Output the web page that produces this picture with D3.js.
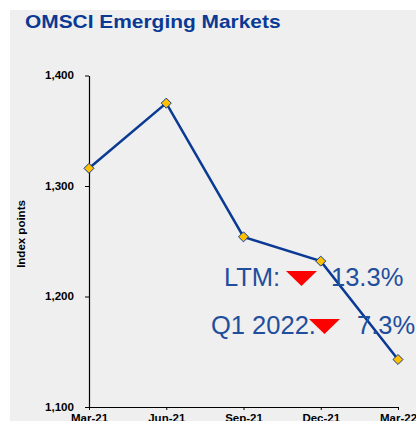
<!DOCTYPE html>
<html>
<head>
<meta charset="utf-8">
<script src="https://cdn.jsdelivr.net/npm/d3@7"></script>
<style>
  body { margin: 0; background: #fff; }
  svg { display: block; font-family: Arial, "Liberation Sans", sans-serif; }
</style>
</head>
<body>
<div id="chart"></div>
<script>
// data
var quarters = ["Mar-21", "Jun-21", "Sep-21", "Dec-21", "Mar-22"];
var indexValues = [1316, 1375, 1254, 1232, 1143];
var yTicks = [1100, 1200, 1300, 1400];
var notes = [
  { label: "LTM:", change: "13.3%" },
  { label: "Q1 2022.", change: "7.3%" }
];

var W = 416, H = 421;

var svg = d3.select("#chart")
  .append("svg")
  .attr("width", W)
  .attr("height", H);

// the source chart is a bit stretched sideways, widen the small texts
function stretch(sel, k) {
  sel.each(function () {
    var w = this.getComputedTextLength();
    d3.select(this).attr("textLength", w * k).attr("lengthAdjust", "spacingAndGlyphs");
  });
}

// grey panel
svg.append("rect")
  .attr("x", 10).attr("y", 10)
  .attr("width", W - 10).attr("height", H - 10)
  .attr("fill", "#efefef");

// title
svg.append("text")
  .attr("x", 25).attr("y", 28)
  .attr("fill", "#0a3a94")
  .style("font-size", "18.5px")
  .style("font-weight", "bold")
  .text("OMSCI Emerging Markets")
  .call(stretch, 1.13);

var x = d3.scalePoint()
  .domain(quarters)
  .range([89, 398]);

var y = d3.scaleLinear()
  .domain([1100, 1400])
  .range([407, 75.5]);

// Y axis
var gy = svg.append("g")
  .attr("transform", "translate(89,0)")
  .call(d3.axisLeft(y).tickValues(yTicks).tickFormat(d3.format(",")).tickSize(4).tickSizeOuter(0));
gy.select(".domain").attr("stroke", "#000").attr("stroke-width", 1.2);
gy.selectAll("text")
  .attr("x", -15)
  .style("font-size", "10px")
  .style("font-weight", "bold")
  .attr("fill", "#000")
  .call(stretch, 1.16);

// X axis
var gx = svg.append("g")
  .attr("transform", "translate(0,407)")
  .call(d3.axisBottom(x).tickSize(3).tickSizeOuter(0));
gx.select(".domain").attr("stroke", "#000").attr("stroke-width", 1.2);
gx.selectAll("text")
  .attr("y", 7)
  .style("font-size", "11.5px")
  .style("font-weight", "bold")
  .attr("fill", "#000");

// axis title
svg.append("text")
  .attr("transform", "translate(25,234) rotate(-90)")
  .attr("text-anchor", "middle")
  .style("font-size", "10px")
  .style("font-weight", "bold")
  .text("Index points")
  .call(stretch, 1.15);

// line
var line = d3.line()
  .x(function (d, i) { return x(quarters[i]); })
  .y(function (d) { return y(d); });

svg.append("path")
  .datum(indexValues)
  .attr("d", line)
  .attr("fill", "none")
  .attr("stroke", "#0a3a94")
  .attr("stroke-width", 2.5);

// diamond markers
svg.selectAll(".pt")
  .data(indexValues)
  .enter().append("path")
  .attr("class", "pt")
  .attr("d", d3.symbol().type(d3.symbolDiamond2).size(64))
  .attr("transform", function (d, i) { return "translate(" + x(quarters[i]) + "," + y(d) + ")"; })
  .attr("fill", "#ffc000")
  .attr("stroke", "#0a3a94")
  .attr("stroke-width", 1);

// annotations
var noteRows = [
  { x: 224, y: 286, triX: 286, valX: 331 },
  { x: 211, y: 334, triX: 309, valX: 357 }
];
notes.forEach(function (n, i) {
  var r = noteRows[i];
  svg.append("text")
    .attr("x", r.x).attr("y", r.y)
    .attr("fill", "#1f4e9c")
    .style("font-size", "25.5px")
    .text(n.label);
  svg.append("path")
    .attr("d", "M" + r.triX + "," + (r.y - 15) + " l31,0 l-15.5,15 z")
    .attr("fill", "#ff0000");
  svg.append("text")
    .attr("x", r.valX).attr("y", r.y)
    .attr("fill", "#1f4e9c")
    .style("font-size", "25.5px")
    .text(n.change);
});
</script>
</body>
</html>
